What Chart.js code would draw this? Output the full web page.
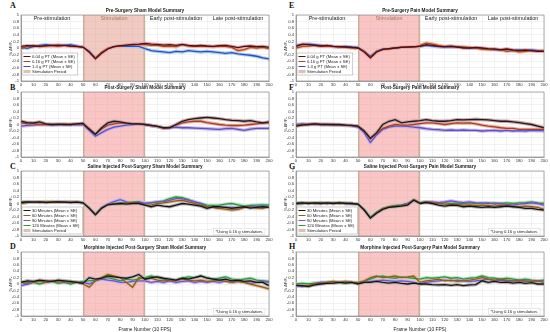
<!DOCTYPE html>
<html>
<head>
<meta charset="utf-8">
<script src="https://cdn.jsdelivr.net/npm/chart.js@4.4.0/dist/chart.umd.min.js"></script>
<style>
  body { margin: 0; background: #fff; width: 550px; height: 332px; overflow: hidden; position: relative; }
  canvas { position: absolute; }
  .tag { position: absolute; font-family: 'Liberation Serif', 'DejaVu Serif', serif; font-weight: bold; font-size: 8px; line-height: 8px; color: #111; }
</style>
</head>
<body>
<div class="tag" style="left:10px;top:2px">A</div>
<div class="tag" style="left:10px;top:84px">B</div>
<div class="tag" style="left:10px;top:163px">C</div>
<div class="tag" style="left:10px;top:243px">D</div>
<div class="tag" style="left:289px;top:2px">E</div>
<div class="tag" style="left:289px;top:84px">F</div>
<div class="tag" style="left:289px;top:163px">G</div>
<div class="tag" style="left:289px;top:243px">H</div>

<script>
// =========================
// DATA (frame 0..200, every 5 frames)
// =========================
const frames = [0,5,10,15,20,25,30,35,40,45,50,55,60,65,70,75,80,85,90,95,
                100,105,110,115,120,125,130,135,140,145,150,155,160,165,170,175,180,185,190,195,200];

const stimPeriod = [50, 100];
const regionLabels = ['Pre-stimulation', 'Stimulation', 'Early post-stimulation', 'Late post-stimulation'];
const regionCenters = [25, 75, 125, 175];
const doseLabels = ['0.04 g PT (Mean ± SE)', '0.16 g PT (Mean ± SE)', '1.4 g PT (Mean ± SE)'];
const timeLabels = ['30 Minutes (Mean ± SE)', '60 Minutes (Mean ± SE)', '90 Minutes (Mean ± SE)', '120 Minutes (Mean ± SE)'];
const noteText = '*Using 0.16 g stimulation.';

// A - Pre-Surgery Sham
const a04 = [0.05,0.07,0.06,0.05,0.07,0.08,0.09,0.08,0.06,0.05,
             0.03,-0.12,-0.33,-0.16,-0.03,0.04,0.07,0.09,0.11,0.12,
             0.14,0.12,0.11,0.09,0.10,0.08,0.11,0.08,0.06,0.08,
             0.06,0.05,0.07,0.08,0.05,0.01,0.05,0.06,0.04,0.05,0.02];
const a16 = [-0.02,0.05,0.08,0.04,0.06,0.07,0.05,0.08,0.05,0.04,
             0.02,-0.12,-0.30,-0.13,-0.01,0.04,0.06,0.08,0.10,0.10,
             0.10,0.08,0.08,0.05,0.06,0.04,0.10,0.06,0.05,0.06,
             0.05,0.04,0.06,0.05,0.02,-0.08,-0.05,0.02,0.00,0.02,-0.02];
const a14 = [0.02,-0.01,0.04,0.08,0.10,0.08,0.06,0.08,0.10,0.06,
             0.03,-0.10,-0.30,-0.14,-0.02,0.04,0.06,0.05,0.06,0.05,
             -0.02,-0.08,-0.10,-0.12,-0.14,-0.10,-0.12,-0.08,-0.10,-0.12,
             -0.10,-0.12,-0.14,-0.16,-0.14,-0.18,-0.20,-0.22,-0.25,-0.30,-0.33];

// B - Post-Surgery Sham
const b04 = [0.10,0.06,0.05,0.08,0.02,0.00,0.01,0.00,0.00,0.02,
             0.04,-0.15,-0.30,-0.10,0.05,0.10,0.08,0.04,0.02,0.02,
             0.00,-0.03,-0.06,-0.10,-0.10,0.00,0.10,0.15,0.18,0.20,
             0.22,0.20,0.18,0.15,0.13,0.12,0.10,0.12,0.08,0.05,0.08];
const b16 = [0.05,0.02,0.03,0.00,0.00,0.00,0.00,0.01,0.00,0.02,
             0.02,-0.12,-0.30,-0.14,-0.02,0.02,0.05,0.04,0.03,0.02,
             0.00,-0.03,-0.06,-0.12,-0.08,-0.02,0.05,0.08,0.10,0.10,
             0.06,0.03,0.00,-0.02,-0.03,-0.03,-0.02,0.00,0.02,0.04,0.05];
const b14 = [-0.05,-0.03,-0.02,0.00,0.00,-0.02,-0.01,0.00,-0.01,-0.01,
             0.00,-0.18,-0.36,-0.25,-0.15,-0.08,-0.05,-0.02,0.00,0.01,
             0.00,-0.04,-0.06,-0.12,-0.10,-0.08,-0.10,-0.10,-0.11,-0.12,
             -0.13,-0.14,-0.15,-0.13,-0.12,-0.15,-0.18,-0.14,-0.12,-0.12,-0.12];

// C - Saline Injected Post-Surgery Sham
const c30 = [0.03,0.05,0.04,0.05,0.03,0.04,0.05,0.04,0.03,0.04,
             0.02,-0.15,-0.35,-0.15,-0.04,-0.02,0.00,-0.02,0.00,0.00,
             -0.05,-0.10,-0.05,-0.08,-0.10,-0.05,0.00,-0.02,-0.05,-0.08,
             -0.15,-0.10,-0.10,-0.12,-0.15,-0.12,-0.10,-0.14,-0.12,-0.10,-0.12];
const c60 = [0.00,0.03,0.05,0.04,0.05,0.06,0.04,0.05,0.04,0.05,
             0.03,-0.14,-0.34,-0.14,-0.03,-0.02,0.00,0.02,0.03,0.02,
             -0.05,-0.04,0.00,0.02,0.05,0.08,0.10,0.05,0.00,-0.05,
             -0.10,-0.12,-0.15,-0.17,-0.20,-0.18,-0.12,-0.10,-0.14,-0.15,-0.10];
const c90 = [0.02,0.04,0.05,0.03,0.04,0.05,0.06,0.04,0.05,0.04,
             0.02,-0.13,-0.33,-0.12,-0.02,0.06,0.12,0.05,0.02,0.05,
             0.00,0.02,0.05,0.05,0.10,0.15,0.15,0.10,0.05,0.00,
             -0.10,-0.12,-0.15,-0.12,-0.12,-0.15,-0.12,-0.08,-0.10,-0.08,-0.10];
const c120 = [0.05,0.06,0.04,0.05,0.06,0.05,0.04,0.06,0.05,0.04,
              0.03,-0.13,-0.33,-0.13,-0.03,0.00,0.02,0.02,0.04,0.06,
              0.00,0.03,0.05,0.08,0.15,0.20,0.18,0.12,0.05,0.00,
              -0.05,-0.06,-0.05,-0.02,0.00,-0.04,-0.08,-0.06,-0.05,-0.04,-0.05];

// D - Morphine Injected Post-Surgery Sham
const d30 = [0.05,0.10,0.08,0.12,0.10,0.08,0.12,0.10,0.08,0.05,
             0.02,0.20,0.15,0.18,0.25,0.22,0.20,0.18,0.22,0.30,
             0.15,0.20,0.22,0.18,0.15,0.12,0.18,0.15,0.20,0.25,
             0.18,0.15,0.12,0.15,0.10,0.12,0.08,0.10,0.05,0.05,-0.05];
const d60 = [0.08,0.05,0.06,0.08,0.05,0.10,0.06,0.08,0.05,0.06,
             0.00,-0.10,0.10,0.20,0.30,0.25,0.20,0.05,-0.10,0.20,
             0.15,0.18,0.12,0.10,0.12,0.10,0.15,0.12,0.10,0.12,
             0.08,0.10,0.12,0.08,0.05,0.08,0.05,0.00,-0.05,-0.10,-0.15];
const d90 = [-0.05,0.00,0.05,0.10,0.05,0.08,0.10,0.05,0.08,0.05,
             0.05,0.00,0.10,0.15,0.12,0.10,0.05,0.05,0.08,0.10,
             0.10,0.05,0.08,0.05,0.10,0.05,0.08,0.10,0.05,0.08,
             0.05,0.08,0.05,0.10,0.05,0.08,0.05,0.02,0.05,0.08,0.05];
const d120 = [0.05,0.00,0.05,0.00,0.05,0.08,0.02,0.05,0.00,0.05,
              0.08,0.10,0.12,0.18,0.20,0.15,0.10,0.15,0.12,0.15,
              0.20,0.25,0.20,0.15,0.10,0.12,0.18,0.22,0.20,0.25,
              0.20,0.15,0.18,0.22,0.15,0.12,0.15,0.18,0.12,0.10,0.08];

// E - Pre-Surgery Pain
const e04 = [0.05,0.12,0.10,0.08,0.06,0.08,0.05,0.04,0.03,0.02,
             0.00,-0.12,-0.30,-0.12,-0.04,-0.02,0.00,0.02,0.03,0.04,
             0.05,0.10,0.08,0.05,0.04,0.05,0.03,0.00,0.00,0.02,
             0.00,-0.02,-0.03,-0.05,-0.03,-0.06,-0.08,-0.06,-0.08,-0.10,-0.10];
const e16 = [0.00,0.05,0.06,0.08,0.05,0.06,0.04,0.02,0.02,0.00,
             0.00,-0.10,-0.28,-0.10,-0.05,-0.03,0.00,0.03,0.02,0.03,
             0.08,0.15,0.12,0.08,0.05,0.06,0.04,0.03,0.02,0.00,
             -0.03,-0.05,-0.04,-0.06,-0.10,-0.08,-0.12,-0.10,-0.08,-0.10,-0.08];
const e14 = [0.08,0.10,0.12,0.10,0.08,0.06,0.05,0.04,0.05,0.03,
             0.02,-0.10,-0.25,-0.10,-0.03,-0.02,0.00,0.02,0.02,0.03,
             0.05,0.08,0.06,0.04,0.03,0.04,0.03,0.02,0.00,0.00,
             -0.02,-0.04,-0.05,-0.06,-0.04,-0.08,-0.06,-0.08,-0.06,-0.08,-0.08];

// F - Post-Surgery Pain
const f04 = [-0.05,-0.02,0.00,0.02,0.00,0.00,0.00,0.00,-0.02,-0.03,
             -0.05,-0.20,-0.42,-0.25,0.00,0.10,0.15,0.05,0.08,0.10,
             0.12,0.15,0.12,0.10,0.10,0.12,0.15,0.14,0.15,0.16,
             0.15,0.14,0.12,0.10,0.10,0.08,0.06,0.03,0.00,-0.05,-0.10];
const f16 = [-0.03,0.00,0.00,0.02,0.00,0.00,0.00,-0.01,-0.02,-0.03,
             -0.05,-0.20,-0.45,-0.28,-0.12,-0.05,0.00,-0.02,-0.02,0.00,
             0.03,0.05,0.05,0.03,0.00,0.03,0.05,0.04,0.05,0.02,
             -0.02,-0.05,-0.07,-0.10,-0.12,-0.12,-0.15,-0.15,-0.15,-0.15,-0.15];
const f14 = [0.00,0.02,0.00,0.00,0.00,0.00,-0.02,-0.02,-0.03,-0.04,
             -0.08,-0.25,-0.55,-0.32,-0.15,-0.08,-0.05,-0.05,-0.06,-0.08,
             -0.10,-0.13,-0.15,-0.16,-0.18,-0.17,-0.18,-0.17,-0.18,-0.18,
             -0.20,-0.19,-0.18,-0.20,-0.18,-0.20,-0.19,-0.20,-0.18,-0.19,-0.19];

// G - Saline Injected Post-Surgery Pain
const g30 = [0.00,0.02,0.00,0.02,0.00,0.02,0.00,0.02,0.00,0.00,
             -0.02,-0.20,-0.45,-0.30,-0.18,-0.12,-0.10,-0.08,-0.05,0.10,
             0.00,0.03,0.00,-0.05,-0.08,-0.05,-0.06,-0.10,-0.08,-0.10,
             -0.12,-0.10,-0.12,-0.10,-0.08,-0.10,-0.12,-0.15,-0.15,-0.18,-0.20];
const g60 = [0.00,0.00,0.02,0.00,0.01,0.00,0.02,0.00,0.01,0.00,
             -0.02,-0.20,-0.44,-0.28,-0.16,-0.10,-0.08,-0.06,-0.02,0.12,
             0.02,0.05,0.03,0.00,-0.02,-0.03,-0.02,-0.05,-0.04,-0.06,
             -0.05,-0.06,-0.08,-0.05,-0.06,-0.08,-0.10,-0.08,-0.10,-0.12,-0.18];
const g90 = [-0.02,0.00,0.02,0.00,0.00,0.02,0.00,0.01,0.00,0.00,
             -0.02,-0.20,-0.45,-0.28,-0.16,-0.10,-0.08,-0.05,0.00,0.12,
             0.02,0.05,0.05,0.03,0.05,0.08,0.05,0.03,0.05,0.02,
             0.00,0.02,-0.02,0.00,-0.03,-0.05,-0.02,0.00,0.02,0.00,-0.05];
const g120 = [0.02,0.03,0.00,0.02,0.03,0.00,0.02,0.03,0.01,0.00,
              -0.02,-0.18,-0.42,-0.26,-0.15,-0.10,-0.06,-0.04,0.00,0.10,
              0.03,0.05,0.02,0.00,0.02,0.00,0.02,0.00,0.02,0.00,
              0.02,0.00,0.02,0.00,0.02,0.00,0.02,0.03,0.05,0.02,0.00];

// H - Morphine Injected Post-Surgery Pain
const h30 = [-0.05,-0.05,-0.08,-0.03,0.00,0.02,0.03,0.05,0.03,0.05,
             0.00,0.05,0.05,0.08,0.05,0.03,0.05,0.02,0.00,0.03,
             0.00,0.00,-0.02,-0.03,-0.02,-0.04,-0.02,-0.05,-0.03,-0.02,
             0.10,0.05,0.08,0.05,0.06,0.03,0.05,0.02,0.04,0.00,0.00];
const h60 = [-0.03,-0.05,-0.05,0.00,0.02,0.05,0.08,0.05,0.08,0.05,
             0.05,0.10,0.20,0.25,0.20,0.22,0.25,0.20,0.22,0.25,
             0.05,0.10,0.12,0.15,0.10,0.12,0.08,0.10,0.12,0.15,
             0.20,0.15,0.12,0.15,0.12,0.10,0.12,0.10,0.08,0.10,0.05];
const h90 = [-0.05,-0.08,-0.05,0.00,0.05,0.05,0.03,0.05,0.08,0.05,
             0.02,0.05,0.08,0.10,0.12,0.10,0.08,0.10,0.08,0.05,
             0.00,0.05,0.08,0.10,0.12,0.10,0.12,0.10,0.08,0.10,
             0.12,0.15,0.10,0.12,0.10,0.08,0.10,0.08,0.10,0.08,0.10];
const h120 = [0.00,0.02,0.00,0.03,0.05,0.05,0.08,0.05,0.03,0.05,
              0.03,0.08,0.15,0.22,0.25,0.20,0.18,0.22,0.20,0.18,
              0.15,0.20,0.18,0.20,0.22,0.18,0.20,0.15,0.18,0.20,
              0.25,0.20,0.18,0.15,0.18,0.15,0.12,0.15,0.12,0.10,0.12];

// =========================
// STYLE
// =========================
Chart.defaults.font.family = "'Liberation Sans', Arial, sans-serif";
Chart.defaults.color = '#333';

const palDose = [['#4e1010', '#e9a5b0'], ['#a8481f', '#f2b79a'], ['#3f46c4', '#98d4f0']];
const palPost = [['#1c1c1c', '#caa3a6'], ['#a3402a', '#eeb0a0'], ['#6352bc', '#c0b0f0']];
const palTime = [['#151515', '#bbb3b3'], ['#86621c', '#e8b89a'], ['#7352cc', '#c6b4f2'], ['#36923a', '#a6e6c8']];

const panels = [
    { col: 0, top: 15,  bottom: 81,  title: 'Pre-Surgery Sham Model Summary', series: [a04, a16, a14], labels: doseLabels, pal: palDose, regions: true, legend: true, legendGap: 6, stim: 'rgba(232,168,152,0.6)' },
    { col: 0, top: 92,  bottom: 157, title: 'Post-Surgery Sham Model Summary', series: [b04, b16, b14], labels: doseLabels, pal: palPost },
    { col: 0, top: 171, bottom: 236, title: 'Saline Injected Post-Surgery Sham Model Summary', series: [c30, c60, c90, c120], labels: timeLabels, pal: palTime, legend: true, legendGap: 2, note: true },
    { col: 0, top: 252, bottom: 316, title: 'Morphine Injected Post-Surgery Sham Model Summary', series: [d30, d60, d90, d120], labels: timeLabels, pal: palTime, note: true, xTitle: true },
    { col: 1, top: 15,  bottom: 81,  title: 'Pre-Surgery Pain Model Summary', series: [e04, e16, e14], labels: doseLabels, pal: palDose, regions: true, legend: true, legendGap: 6 },
    { col: 1, top: 92,  bottom: 157, title: 'Post-Surgery Pain Model Summary', series: [f04, f16, f14], labels: doseLabels, pal: palPost },
    { col: 1, top: 171, bottom: 236, title: 'Saline Injected Post-Surgery Pain Model Summary', series: [g30, g60, g90, g120], labels: timeLabels, pal: palTime, legend: true, legendGap: 2, note: true },
    { col: 1, top: 252, bottom: 316, title: 'Morphine Injected Post-Surgery Pain Model Summary', series: [h30, h60, h90, h120], labels: timeLabels, pal: palTime, note: true, xTitle: true }
];

// =========================
// DECORATION PLUGIN
// =========================
const deco = {
    id: 'deco',
    beforeDatasetsDraw(chart, args, o) {
        const { ctx, chartArea: a, scales: { x } } = chart;
        const x0 = x.getPixelForValue(stimPeriod[0]);
        const x1 = x.getPixelForValue(stimPeriod[1]);
        ctx.save();
        ctx.fillStyle = o.stim;
        ctx.fillRect(x0, a.top, x1 - x0, a.bottom - a.top);
        ctx.fillStyle = 'rgba(200,170,145,0.85)';
        ctx.fillRect(x0, a.top, 1.5, a.bottom - a.top);
        ctx.fillRect(x1 - 1.5, a.top, 1.5, a.bottom - a.top);
        ctx.restore();
    },
    afterDraw(chart, args, o) {
        const { ctx, chartArea: a, scales: { x } } = chart;
        ctx.save();

        // box
        ctx.strokeStyle = '#7a7a7a';
        ctx.lineWidth = 0.6;
        ctx.strokeRect(a.left, a.top, a.right - a.left, a.bottom - a.top);

        // title
        ctx.fillStyle = '#1a1a1a';
        ctx.font = "bold 4.7px 'Liberation Sans', Arial, sans-serif";
        ctx.textAlign = 'center';
        ctx.textBaseline = 'middle';
        ctx.fillText(o.title, (a.left + a.right) / 2, a.top - 4.5);

        // period labels
        if (o.regions) {
            ctx.font = "5.5px 'Liberation Sans', Arial, sans-serif";
            regionLabels.forEach((t, i) => {
                ctx.fillStyle = i === 1 ? '#a07a62' : '#222';
                ctx.fillText(t, x.getPixelForValue(regionCenters[i]), a.top + 3.8);
            });
        }

        // legend
        if (o.legend) {
            const items = chart.data.datasets.filter(d => d.label).map(d => ({ label: d.label, color: d.borderColor }));
            items.push({ label: 'Stimulation Period', patch: true });
            const rowH = 5;
            ctx.font = "4.2px 'Liberation Sans', Arial, sans-serif";
            const w = Math.max(...items.map(it => ctx.measureText(it.label).width)) + 13;
            const h = items.length * rowH + 2;
            const bx = a.left + 1;
            const by = a.bottom - o.legendGap - h;
            ctx.fillStyle = '#fff';
            ctx.fillRect(bx, by, w, h);
            ctx.strokeStyle = '#9a9a9a';
            ctx.lineWidth = 0.5;
            ctx.strokeRect(bx, by, w, h);
            ctx.textAlign = 'left';
            items.forEach((it, i) => {
                const cy = by + 1 + rowH * (i + 0.5);
                if (it.patch) {
                    ctx.fillStyle = '#d9c3b2';
                    ctx.fillRect(bx + 1.5, cy - 1.6, 7, 3.2);
                } else {
                    ctx.strokeStyle = it.color;
                    ctx.lineWidth = 1;
                    ctx.beginPath();
                    ctx.moveTo(bx + 1.5, cy);
                    ctx.lineTo(bx + 8.5, cy);
                    ctx.stroke();
                }
                ctx.fillStyle = '#222';
                ctx.fillText(it.label, bx + 10, cy);
            });
        }

        // note
        if (o.note) {
            ctx.font = "4.2px 'Liberation Sans', Arial, sans-serif";
            const tw = ctx.measureText(noteText).width;
            const rx = a.right - 6 - tw;
            const cy = a.bottom - 4.5;
            ctx.fillStyle = '#fff';
            ctx.fillRect(rx - 2, cy - 3, tw + 4, 6);
            ctx.strokeStyle = '#c8c8c8';
            ctx.lineWidth = 0.4;
            ctx.strokeRect(rx - 2, cy - 3, tw + 4, 6);
            ctx.fillStyle = '#222';
            ctx.textAlign = 'left';
            ctx.fillText(noteText, rx, cy);
        }
        ctx.restore();
    }
};

// =========================
// BUILD PANELS
// =========================
function buildPanel(p) {
    const padTop = 15;
    const xh = p.xTitle ? 17 : 11;
    const hgt = padTop + (p.bottom - p.top) + xh;

    const canvas = document.createElement('canvas');
    canvas.width = 275;
    canvas.height = hgt;
    canvas.style.left = (p.col * 275) + 'px';
    canvas.style.top = (p.top - padTop) + 'px';
    canvas.style.width = '275px';
    canvas.style.height = hgt + 'px';
    document.body.appendChild(canvas);

    const datasets = [];
    p.series.forEach((vals, i) => {
        const pts = frames.map((f, k) => ({ x: f, y: vals[k] }));
        // line on top
        datasets.push({
            label: p.labels[i], data: pts, borderColor: p.pal[i][0],
            borderWidth: 1.3, pointRadius: 0, order: 0
        });
        // SE band underneath
        datasets.push({
            label: '', data: pts, borderColor: p.pal[i][1],
            borderWidth: 3.4, pointRadius: 0, order: 1
        });
    });

    new Chart(canvas, {
        type: 'line',
        data: { datasets },
        options: {
            responsive: false,
            animation: false,
            devicePixelRatio: 1,
            layout: { padding: { left: 8, right: 6, top: padTop, bottom: 0 } },
            plugins: {
                legend: { display: false },
                tooltip: { enabled: false },
                deco: {
                    title: p.title, regions: !!p.regions, legend: !!p.legend,
                    legendGap: p.legendGap || 0, note: !!p.note,
                    stim: p.stim || 'rgba(246,150,150,0.55)'
                }
            },
            scales: {
                x: {
                    type: 'linear', min: 0, max: 200,
                    ticks: { stepSize: 10, autoSkip: false, maxRotation: 0, padding: 1, font: { size: 4.2 }, color: '#333' },
                    grid: { color: '#e4e4e4', lineWidth: 0.5, drawTicks: false },
                    border: { color: '#7a7a7a', width: 0.6 },
                    title: { display: !!p.xTitle, text: 'Frame Number (10 FPS)', font: { size: 4.8 }, padding: 0, color: '#222' },
                    afterFit(s) { s.height = xh; }
                },
                y: {
                    min: -1, max: 1,
                    ticks: { stepSize: 0.2, autoSkip: false, padding: 2, font: { size: 4.2 }, color: '#333',
                             callback: v => String(Math.round(v * 10) / 10) },
                    grid: { color: '#e4e4e4', lineWidth: 0.5, drawTicks: false },
                    border: { color: '#7a7a7a', width: 0.6 },
                    title: { display: true, text: '% ΔF/F₀', font: { size: 4 }, padding: 0, color: '#222' },
                    afterFit(s) { s.width = 13; }
                }
            }
        },
        plugins: [deco]
    });
}

panels.forEach(buildPanel);
</script>
</body>
</html>
